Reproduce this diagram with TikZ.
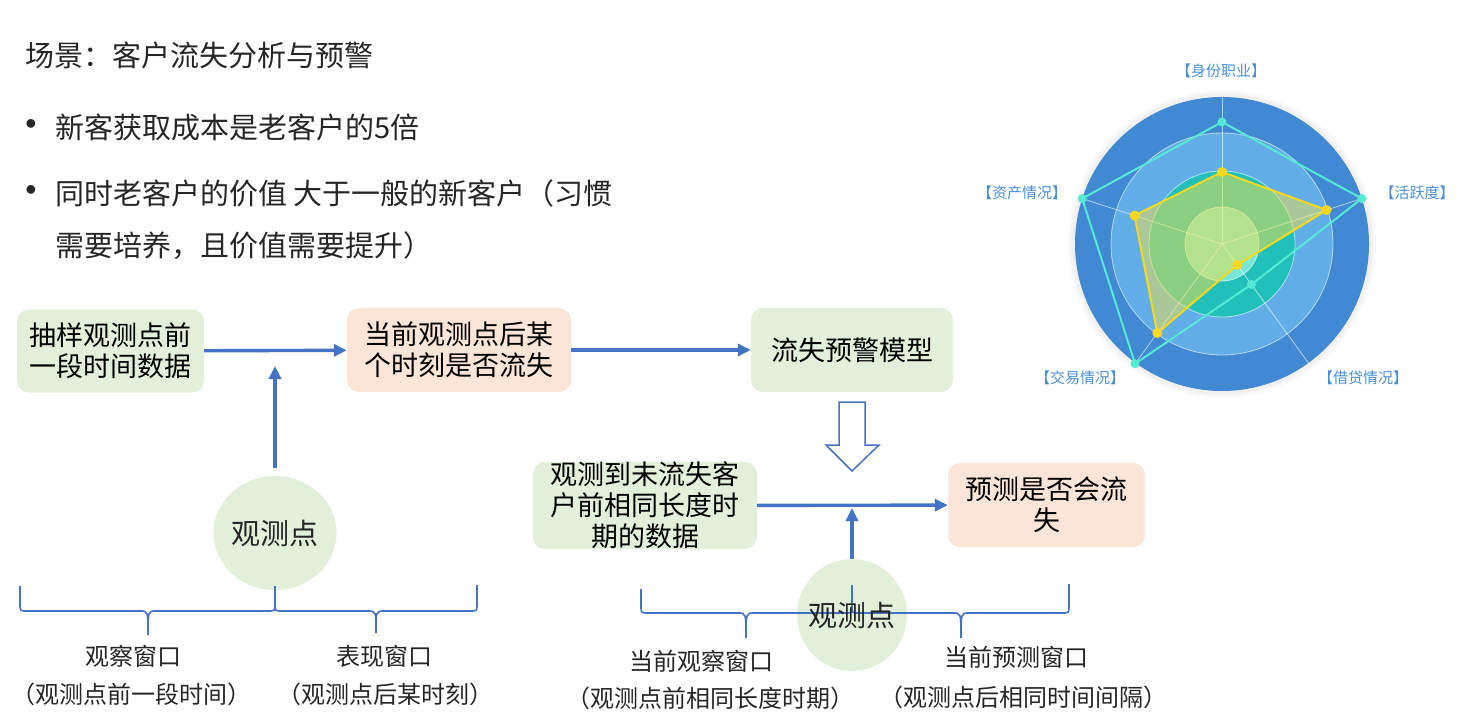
\documentclass[tikz,border=0pt]{standalone}
\usepackage{fontspec}
\usepackage{xcolor}
\setmainfont{Noto Sans CJK SC}
\newfontfamily\dotfont{Liberation Sans}
\usetikzlibrary{arrows.meta,shapes.geometric}

\definecolor{boxgreen}{HTML}{E2F0D9}
\definecolor{boxpeach}{HTML}{FBE5D6}
\definecolor{flowblue}{HTML}{4472C4}
\definecolor{inktext}{HTML}{262626}
\definecolor{radarlbl}{HTML}{4A8FD6}
\definecolor{ringA}{HTML}{4189D2}
\definecolor{ringB}{HTML}{62AEE8}
\definecolor{ringC}{HTML}{22C0BB}
\definecolor{ringD}{HTML}{76E6D6}
\definecolor{lineyel}{HTML}{F7D81E}
\definecolor{fillyel}{HTML}{F0E04A}
\definecolor{linecyan}{HTML}{55EAD4}

\newcommand\txtbody{\fontsize{29pt}{34pt}\selectfont}
\newcommand\txtbox{\fontsize{27pt}{31pt}\selectfont}
\newcommand\txtlabel{\fontsize{24pt}{29pt}\selectfont}
\newcommand\txtradar{\fontsize{15pt}{17pt}\selectfont}

\tikzset{
  stepbox/.style={rounded corners=12pt, inner sep=0pt, align=center, font=\txtbox, text=black},
  greenbox/.style={stepbox, fill=boxgreen},
  peachbox/.style={stepbox, fill=boxpeach},
  obspoint/.style={ellipse, fill=boxgreen, inner sep=0pt, minimum width=110pt, minimum height=114pt, font=\txtbody, text=inktext},
  flow/.style={draw=flowblue, line width=3.4pt, -{Triangle[length=13pt,width=12pt]}},
  winbrace/.style={draw=flowblue, line width=1.6pt},
  winlabel/.style={font=\txtlabel, text=inktext, inner sep=0pt},
  bodyline/.style={font=\txtbody, text=inktext, inner sep=0pt, anchor=west},
  bullet/.style={font=\dotfont\fontsize{32pt}{32pt}\selectfont, text=inktext, inner sep=0pt},
  radarlabel/.style={font=\txtradar, text=radarlbl, inner sep=0pt},
  gridline/.style={draw=white, draw opacity=0.6, line width=0.8pt}
}

\begin{document}
\begin{tikzpicture}[x=1pt, y=-1pt]
\useasboundingbox (0,0) rectangle (1468,715);
\fill[white] (0,0) rectangle (1468,715);

\node[bodyline] (title) at (25,55) {场景：客户流失分析与预警};
\node[bullet] (dot1) at (31,127) {•};
\node[bodyline] (cost) at (55,127) {新客获取成本是老客户的5倍};
\node[bullet] (dot2) at (31,193) {•};
\node[bodyline] (value) at (55,193) {同时老客户的价值 大于一般的新客户（习惯};
\node[bodyline] (valuecont) at (55,246) {需要培养，且价值需要提升）};

\node[greenbox, minimum width=187pt, minimum height=83pt] (smp) at (110.5,351) {抽样观测点前\\一段时间数据};
\node[peachbox, minimum width=224pt, minimum height=84pt] (cur) at (459,350) {当前观测点后某\\个时刻是否流失};
\node[greenbox, minimum width=202pt, minimum height=84pt] (mdl) at (852,350) {流失预警模型};
\node[greenbox, minimum width=224pt, minimum height=85pt] (hist) at (645,505.5) {观测到未流失客\\户前相同长度时\\期的数据};
\node[peachbox, minimum width=197pt, minimum height=84pt] (pred) at (1046.5,505) {预测是否会流\\失};

\node[obspoint] (obs1) at (275,533) {观测点};
\node[obspoint, minimum height=112pt] (obs2) at (852,615) {};

\coordinate (up1) at (275,366);
\coordinate (up2) at (852,508);

\draw[flow] (smp) -- (cur);
\draw[flow] (cur) -- (mdl);
\draw[flow, shorten <=8pt] (obs1.north) -- (up1);
\draw[flow] (hist) -- (pred);
\draw[flow] (obs2.north) -- (up2);

\draw[draw=flowblue, fill=white, line width=1.5pt, line join=miter] (839,402) -- (865,402) -- (865,445) -- (879,445) -- (852,471) -- (826,445) -- (839,445) -- cycle;

\draw[winbrace] (20,586) -- (20,604) .. controls (20,611) .. (27,611) -- (140,611) .. controls (148,611) .. (148,635) .. controls (148,611) .. (156,611) -- (268,611) .. controls (275,611) .. (275,604) -- (275,586);
\draw[winbrace] (275,586) -- (275,604) .. controls (275,611) .. (282,611) -- (368,611) .. controls (376,611) .. (376,633) .. controls (376,611) .. (384,611) -- (470,611) .. controls (477,611) .. (477,604) -- (477,585);
\draw[winbrace] (641,589) -- (641,606) .. controls (641,613) .. (648,613) -- (738,613) .. controls (746,613) .. (746,638) .. controls (746,613) .. (754,613) -- (845,613) .. controls (852,613) .. (852,606) -- (852,585);
\draw[winbrace] (852,585) -- (852,606) .. controls (852,613) .. (859,613) -- (953,613) .. controls (961,613) .. (961,638) .. controls (961,613) .. (969,613) -- (1062,613) .. controls (1069,613) .. (1069,606) -- (1069,584);

\node[font=\txtbody, text=inktext] (obs2txt) at (obs2) {观测点};

\node[winlabel] (obswin) at (133,656) {观察窗口};
\node[winlabel] (obswinsub) at (132,694) {（观测点前一段时间）};
\node[winlabel] (perfwin) at (384,656) {表现窗口};
\node[winlabel] (perfwinsub) at (385,694) {（观测点后某时刻）};
\node[winlabel] (curobs) at (701,661) {当前观察窗口};
\node[winlabel] (curobssub) at (710,698) {（观测点前相同长度时期）};
\node[winlabel] (curpred) at (1016,657) {当前预测窗口};
\node[winlabel] (curpredsub) at (1023,697) {（观测点后相同时间间隔）};

\begin{scope}[shift={(1222,244)}]
\foreach \r in {154,152,150} \fill[black, opacity=0.018] (0,0) circle (\r pt);
\fill[ringA] (0,0) circle (147pt);
\fill[ringB] (0,0) circle (111pt);
\fill[ringC] (0,0) circle (73pt);
\fill[ringD] (0,0) circle (37pt);
\foreach \r in {37,73,111} \draw[gridline] (0,0) circle (\r pt);
\foreach \a in {90,18,-54,-126,162} \draw[gridline] (0,0) -- (\a:147pt);
\draw[linecyan, line width=2pt] (90:122pt) -- (18:147pt) -- (-54:50pt) -- (-126:148pt) -- (162:147pt) -- cycle;
\filldraw[draw=lineyel, fill=fillyel, fill opacity=0.5, line width=2pt] (90:72pt) -- (18:110pt) -- (-54:26pt) -- (-126:110pt) -- (162:92pt) -- cycle;
\foreach \a/\r in {90/122,18/147,-54/50,-126/148,162/147} \fill[linecyan] (\a:\r pt) circle (4.5pt);
\foreach \a/\r in {90/72,18/110,-54/26,-126/110,162/92} \fill[lineyel] (\a:\r pt) circle (5pt);
\end{scope}

\node[radarlabel] (axid) at (1221,71) {【身份职业】};
\node[radarlabel] (axact) at (1417,193) {【活跃度】};
\node[radarlabel] (axloan) at (1363,378) {【借贷情况】};
\node[radarlabel] (axtrade) at (1080,378) {【交易情况】};
\node[radarlabel] (axasset) at (1022,193) {【资产情况】};
\end{tikzpicture}
\end{document}
